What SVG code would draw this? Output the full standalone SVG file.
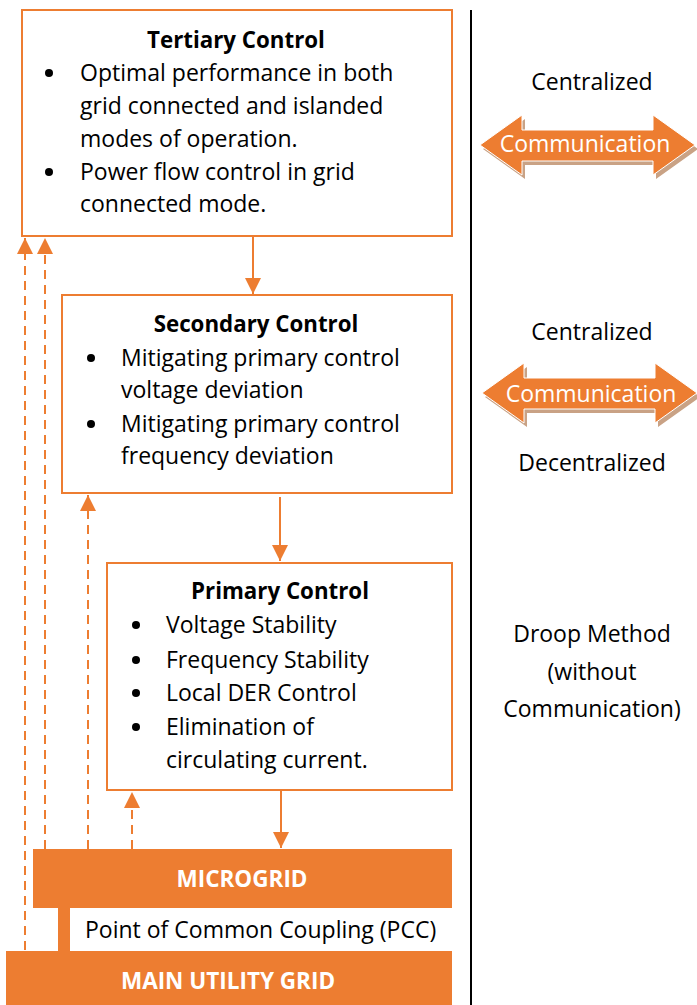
<svg xmlns="http://www.w3.org/2000/svg" width="697" height="1005" viewBox="0 0 697 1005">
  <style>
    .box { fill: #ffffff; stroke: #ED7D31; stroke-width: 2; }
    .bar { fill: #ED7D31; }
    .t { font-family: "Open Sans", Lato, sans-serif; font-size: 23px; fill: #000000; }
    .h { font-family: "Open Sans", Lato, sans-serif; font-size: 22.3px; font-weight: bold; fill: #000000; text-anchor: middle; }
    .w { font-family: "Open Sans", Lato, sans-serif; font-size: 22.5px; font-weight: bold; fill: #ffffff; text-anchor: middle; }
    .c { font-family: "Open Sans", Lato, sans-serif; font-size: 23px; fill: #000000; text-anchor: middle; }
    .comm { font-family: "Open Sans", Lato, sans-serif; font-size: 23px; fill: #ffffff; text-anchor: middle; }
    .solid { stroke: #ED7D31; stroke-width: 2; fill: none; }
    .dash { stroke: #ED7D31; stroke-width: 2; stroke-dasharray: 9 6; fill: none; }
    .dot { fill: #000000; }
  </style>
  <defs>
    <marker id="ah" viewBox="0 0 16 16" refX="16" refY="8" markerWidth="16" markerHeight="16" markerUnits="userSpaceOnUse" orient="auto">
      <path d="M0,0 L16,8 L0,16 Z" fill="#ED7D31"/>
    </marker>
    <polygon id="dbl" points="0,30 42,0 42,15 173,15 173,0 215,30 173,60 173,46 42,46 42,60"/>
  </defs>

  <!-- divider -->
  <line x1="471" y1="10" x2="471" y2="1005" stroke="#000" stroke-width="2"/>

  <!-- connectors -->
  <g id="connectors">
    <line class="solid" x1="253" y1="237" x2="253" y2="294" marker-end="url(#ah)"/>
    <line class="solid" x1="280" y1="497" x2="280" y2="561" marker-end="url(#ah)"/>
    <line class="solid" x1="281" y1="791" x2="281" y2="848" marker-end="url(#ah)"/>
    <line class="dash" x1="25" y1="950" x2="25" y2="238" marker-end="url(#ah)"/>
    <line class="dash" x1="45" y1="849" x2="45" y2="238" marker-end="url(#ah)"/>
    <line class="dash" x1="88" y1="849" x2="88" y2="495" marker-end="url(#ah)"/>
    <line class="dash" x1="132" y1="849" x2="132" y2="792" marker-end="url(#ah)"/>
  </g>

  <!-- tertiary -->
  <g id="tertiary">
    <rect class="box" x="22" y="10" width="430" height="226"/>
    <text class="h" x="236" y="48">Tertiary Control</text>
    <circle class="dot" cx="49" cy="73" r="4"/>
    <text class="t" x="80" y="81">Optimal performance in both</text>
    <text class="t" x="80" y="114">grid connected and islanded</text>
    <text class="t" x="80" y="147">modes of operation.</text>
    <circle class="dot" cx="49" cy="172" r="4"/>
    <text class="t" x="80" y="180">Power flow control in grid</text>
    <text class="t" x="80" y="212">connected mode.</text>
  </g>

  <!-- secondary -->
  <g id="secondary">
    <rect class="box" x="62" y="295" width="390" height="198"/>
    <text class="h" x="256" y="332">Secondary Control</text>
    <circle class="dot" cx="91" cy="358" r="4"/>
    <text class="t" x="121" y="366">Mitigating primary control</text>
    <text class="t" x="121" y="398">voltage deviation</text>
    <circle class="dot" cx="91" cy="424" r="4"/>
    <text class="t" x="121" y="432">Mitigating primary control</text>
    <text class="t" x="121" y="464">frequency deviation</text>
  </g>

  <!-- primary -->
  <g id="primary">
    <rect class="box" x="107" y="563" width="345" height="227"/>
    <text class="h" x="280" y="599">Primary Control</text>
    <circle class="dot" cx="136" cy="625" r="4"/>
    <text class="t" x="166" y="633">Voltage Stability</text>
    <circle class="dot" cx="136" cy="660" r="4"/>
    <text class="t" x="166" y="668">Frequency Stability</text>
    <circle class="dot" cx="136" cy="693" r="4"/>
    <text class="t" x="166" y="701">Local DER Control</text>
    <circle class="dot" cx="136" cy="727" r="4"/>
    <text class="t" x="166" y="735">Elimination of</text>
    <text class="t" x="166" y="768">circulating current.</text>
  </g>

  <!-- microgrid and utility grid -->
  <g id="microgrid">
    <rect class="bar" x="33" y="849" width="419" height="59"/>
    <text class="w" x="242" y="887">MICROGRID</text>
  </g>
  <g id="pcc">
    <rect class="bar" x="58" y="907" width="12" height="45"/>
    <text class="t" x="85" y="938">Point of Common Coupling (PCC)</text>
  </g>
  <g id="utility">
    <rect class="bar" x="6" y="951" width="446" height="54"/>
    <text class="w" x="228" y="989">MAIN UTILITY GRID</text>
  </g>

  <!-- right-hand labels -->
  <g id="comm-top">
    <text class="c" x="592" y="90">Centralized</text>
    <use href="#dbl" x="483" y="119" fill="#C9A285"/>
    <use href="#dbl" x="480" y="115" fill="#ED7D31" stroke="#ffffff" stroke-width="1"/>
    <text class="comm" x="585" y="152">Communication</text>
  </g>
  <g id="comm-mid">
    <text class="c" x="592" y="340">Centralized</text>
    <use href="#dbl" x="485" y="367" fill="#C9A285"/>
    <use href="#dbl" x="482" y="363" fill="#ED7D31" stroke="#ffffff" stroke-width="1"/>
    <text class="comm" x="591" y="402">Communication</text>
    <text class="c" x="592" y="471">Decentralized</text>
  </g>
  <g id="droop">
    <text class="c" x="592" y="642">Droop Method</text>
    <text class="c" x="592" y="680">(without</text>
    <text class="c" x="592" y="717">Communication)</text>
  </g>
</svg>
